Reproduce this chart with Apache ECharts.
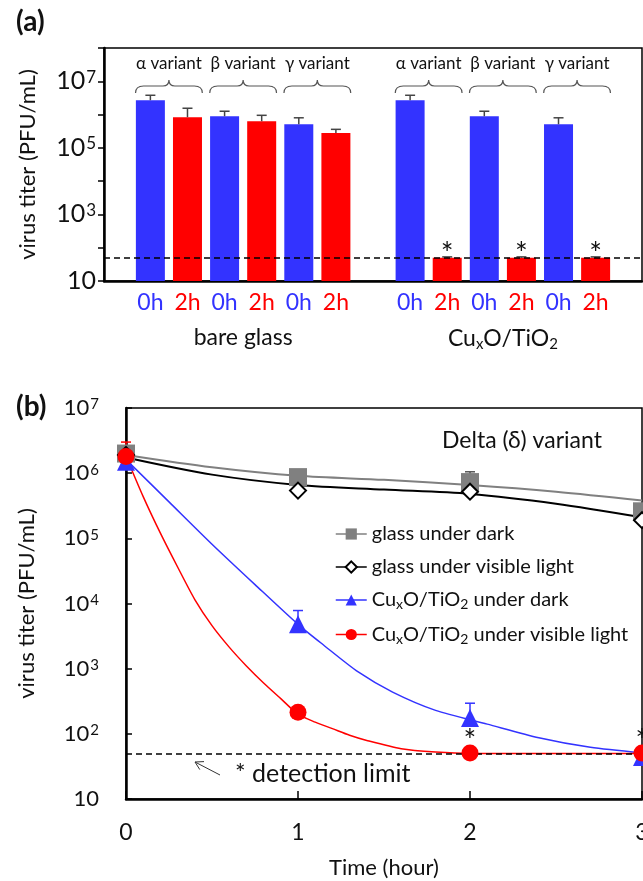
<!DOCTYPE html>
<html>
<head>
    <meta charset="utf-8">
    <title></title>
    <style type="text/css">
        html, body { margin: 0; padding: 0; background: #fff; }
        #main { width: 643px; height: 881px; }
    </style>
</head>
<body>
<div id="main"></div>
<script type="text/javascript" src="https://cdn.jsdelivr.net/npm/echarts@6.0.0/dist/echarts.min.js"></script>
<script type="text/javascript">
    // ---- panel (a): titers per variant, 0h vs 2h ----
    var barLabels = ['0h', '2h', '0h', '2h', '0h', '2h', '0h', '2h', '0h', '2h', '0h', '2h'];
    var barValues = [2.7e6, 8.3e5, 8.9e5, 6.3e5, 5.1e5, 2.8e5, 2.7e6, 50, 8.9e5, 50, 5.1e5, 50];
    var barErrTop = [3.8e6, 1.55e6, 1.26e6, 9.5e5, 8.0e5, 3.6e5, 3.8e6, 53, 1.26e6, 53, 8.0e5, 53];
    var barStar = [0, 0, 0, 0, 0, 0, 0, 1, 0, 1, 0, 1];
    var groupNames = ['bare glass', 'Cu{sub|x}O/TiO{sub|2}'];
    var variantNames = ['α variant', 'β variant', 'γ variant'];
    var detectionLimit = 50;

    // ---- panel (b): Delta variant over time ----
    var timeH = [0, 1, 2, 3];
    var glassDark = [2.0e6, 8.7e5, 7.3e5, 2.6e5];
    var glassDarkErr = [null, null, 1.05e6, 3.0e5];
    var glassLight = [1.9e6, 5.4e5, 5.2e5, 1.9e5];
    var cuDark = [1.5e6, 4.8e3, 175, 44];
    var cuDarkErr = [null, 7.8e3, 295, null];
    var cuLight = [1.8e6, 215, 51, 51];
    var cuLightErr = [3.0e6, null, null, null];
    var cuLightStar = [0, 0, 1, 1];

    // fitted curves
    var glassFitT = [0, 0.5, 1, 1.5, 2, 2.5, 3];
    var glassDarkFit = [1.9e6, 1.23e6, 9.1e5, 7.9e5, 6.6e5, 5.2e5, 3.8e5];
    var glassLightFit = [1.74e6, 9.5e5, 6.6e5, 5.6e5, 4.8e5, 3.4e5, 2.1e5];
    var cuDarkFitT = [0, 0.25, 0.5, 0.75, 1, 1.15, 1.35, 1.55, 1.8, 2.1, 2.4, 2.7, 3];
    var cuDarkFit = [1.62e6, 3.63e5, 8.13e4, 1.95e4, 4790, 2290, 891, 437, 229, 141, 87, 62, 51];
    var cuLightFitT = [0, 0.1, 0.2, 0.3, 0.4, 0.5, 0.6, 0.7, 0.8, 0.9, 1, 1.1, 1.2, 1.3, 1.4, 1.6, 1.8, 2, 2.5, 3];
    var cuLightFit = [1.82e6, 4.37e5, 1.2e5, 3.63e4, 1.15e4, 4570, 2140, 1100, 603, 347, 200, 151, 120, 95, 79, 59, 52.5, 50, 50, 50];

    var legendNames = ['glass under dark', 'glass under visible light', 'CuxO/TiO2 under dark', 'CuxO/TiO2 under visible light'];
    var legendText = ['glass under dark', 'glass under visible light',
        'Cu{sub|x}O/TiO{sub|2} under dark', 'Cu{sub|x}O/TiO{sub|2} under visible light'];

    var FONT = 'Lato, "Open Sans", sans-serif';
    var TXT = '#111';
    var BLUE = '#3333FF', RED = '#FF0000', GRAY = '#808080';

    // two groups of six bars with one empty slot between them
    function barPos(i) {
        return 1.25 + Math.floor(i / 6) * 7 + (i % 6);
    }
    function near(a, b) { return Math.abs(a - b) < 1e-6; }
    function expOf(v) { return Math.round(Math.log(v) / Math.LN10); }
    function zip(xs, ys) { return xs.map(function (x, i) { return [x, ys[i]]; }); }

    function supRich(size, supSize) {
        return {
            base: {fontSize: size, color: TXT, fontFamily: FONT},
            sup: {fontSize: supSize, color: TXT, fontFamily: FONT, verticalAlign: 'top', padding: [0, 0, 0, 1]}
        };
    }
    function powLabel(v) {
        var e = expOf(v);
        return e === 1 ? '{base|10}' : '{base|10}{sup|' + e + '}';
    }

    var myChart = echarts.init(document.getElementById('main'));

    // bar data
    var barData = barValues.map(function (v, i) {
        var item = {
            value: [barPos(i), v],
            itemStyle: {color: barLabels[i] === '0h' ? BLUE : RED}
        };
        if (barStar[i]) item.label = {show: true, formatter: '*'};
        return item;
    });
    var barErrData = barErrTop.map(function (e, i) { return [barPos(i), barValues[i], e]; });

    var braceData = [];
    for (var g = 0; g < 2; g++) {
        for (var v = 0; v < 3; v++) {
            braceData.push([barPos(g * 6 + v * 2) - 0.4, barPos(g * 6 + v * 2 + 1) + 0.4, 1e7, v]);
        }
    }

    function renderBrace(params, api) {
        var x0 = api.coord([api.value(0), 10])[0];
        var x1 = api.coord([api.value(1), 10])[0];
        var top = params.coordSys.y;
        var xm = (x0 + x1) / 2;
        var yT = top + 32, yL = top + 38, yE = top + 45;
        var d = 'M' + x0 + ',' + yE + ' Q' + x0 + ',' + yL + ' ' + (x0 + 8) + ',' + yL +
            ' L' + (xm - 6) + ',' + yL + ' Q' + xm + ',' + yL + ' ' + xm + ',' + yT +
            ' Q' + xm + ',' + yL + ' ' + (xm + 6) + ',' + yL +
            ' L' + (x1 - 8) + ',' + yL + ' Q' + x1 + ',' + yL + ' ' + x1 + ',' + yE;
        return {
            type: 'group',
            children: [
                {type: 'path', shape: {pathData: d}, style: {stroke: '#555', fill: 'none', lineWidth: 1.2}},
                {
                    type: 'text',
                    style: {
                        text: variantNames[api.value(3)], x: xm, y: top + 16,
                        align: 'center', verticalAlign: 'middle',
                        fontSize: 17, fontFamily: FONT, fill: TXT
                    }
                }
            ]
        };
    }

    function errRenderer(colors) {
        return function (params, api) {
            var top = api.value(2);
            if (top == null || isNaN(top)) return;
            var p0 = api.coord([api.value(0), api.value(1)]);
            var p1 = api.coord([api.value(0), top]);
            var c = colors[api.value(3) || 0];
            return {
                type: 'group',
                children: [
                    {type: 'line', shape: {x1: p0[0], y1: p0[1], x2: p1[0], y2: p1[1]}, style: {stroke: c, lineWidth: 1.5}},
                    {type: 'line', shape: {x1: p1[0] - 5, y1: p1[1], x2: p1[0] + 5, y2: p1[1]}, style: {stroke: c, lineWidth: 1.5}}
                ]
            };
        };
    }

    var errB = [];
    [[glassDark, glassDarkErr, 0], [cuDark, cuDarkErr, 1], [cuLight, cuLightErr, 2]].forEach(function (s) {
        timeH.forEach(function (t, i) {
            if (s[1][i] != null) errB.push([t, s[0][i], s[1][i], s[2]]);
        });
    });

    var cuLightData = timeH.map(function (t, i) {
        var item = {value: [t, cuLight[i]]};
        if (cuLightStar[i]) item.label = {show: true, formatter: '*'};
        return item;
    });

    var dashLine = {
        silent: true, symbol: 'none', label: {show: false},
        lineStyle: {color: '#000', type: [6, 4], width: 1.5},
        data: [{yAxis: detectionLimit}]
    };

    var starLabel = {show: false, position: 'top', distance: -12, fontSize: 30, color: TXT, fontFamily: FONT};

    var option = {
        backgroundColor: '#fff',
        animation: false,
        textStyle: {fontFamily: FONT},
        title: [
            {text: '(a)', left: 11, top: 3, textStyle: {fontSize: 28, fontWeight: 'bold', color: TXT, fontFamily: FONT}},
            {text: '(b)', left: 11, top: 388, textStyle: {fontSize: 28, fontWeight: 'bold', color: TXT, fontFamily: FONT}},
            {text: 'Delta (δ) variant', left: 437, top: 424, textStyle: {fontSize: 23, fontWeight: 'normal', color: TXT, fontFamily: FONT}},
            {text: '* detection limit', left: 230, top: 756, textStyle: {fontSize: 25, fontWeight: 'normal', color: TXT, fontFamily: FONT}}
        ],
        graphic: [
            {type: 'line', shape: {x1: 220, y1: 775, x2: 195, y2: 762}, style: {stroke: '#333', lineWidth: 1}},
            {type: 'polyline', shape: {points: [[199.8, 769.6], [195, 762], [204, 761.6]]}, style: {stroke: '#333', fill: 'none', lineWidth: 1}}
        ],
        legend: {
            left: 330, top: 519, orient: 'vertical',
            itemWidth: 31, itemHeight: 14, itemGap: 13,
            selectedMode: false,
            data: legendNames,
            formatter: function (n) { return legendText[legendNames.indexOf(n)]; },
            lineStyle: {opacity: 1, width: 1.5},
            textStyle: {
                fontSize: 20, color: TXT, fontFamily: FONT,
                rich: {sub: {fontSize: 14, color: TXT, fontFamily: FONT, padding: [9, 0, 0, 0]}}
            }
        },
        grid: [
            {left: 104, top: 48, right: 1, height: 233, show: true, borderColor: '#000', borderWidth: 1.5, outerBoundsMode: 'none', containLabel: false},
            {left: 126, top: 408, right: 1, height: 391, show: true, borderColor: '#000', borderWidth: 1.5, outerBoundsMode: 'none', containLabel: false}
        ],
        xAxis: [
            {
                type: 'value', gridIndex: 0, min: 0, max: 14.5, interval: 0.25,
                axisLine: {show: true, onZero: false, lineStyle: {color: '#000', width: 2.5}},
                axisTick: {show: false}, splitLine: {show: false},
                axisLabel: {
                    margin: 10,
                    formatter: function (v) {
                        for (var i = 0; i < barLabels.length; i++) {
                            if (near(v, barPos(i))) return barLabels[i] === '0h' ? '{b|0h}' : '{r|2h}';
                        }
                        return '';
                    },
                    rich: {
                        b: {color: BLUE, fontSize: 23, fontFamily: FONT, padding: [0, 0, 6, 0]},
                        r: {color: RED, fontSize: 23, fontFamily: FONT}
                    }
                }
            },
            {
                type: 'value', gridIndex: 0, min: 0, max: 14.5, interval: 0.25, position: 'bottom', offset: 37,
                axisLine: {show: false}, axisTick: {show: false}, splitLine: {show: false},
                axisLabel: {
                    margin: 8, fontSize: 23, color: TXT, fontFamily: FONT,
                    formatter: function (v) {
                        for (var g = 0; g < groupNames.length; g++) {
                            if (near(v, (barPos(g * 6) + barPos(g * 6 + 5)) / 2)) return groupNames[g];
                        }
                        return '';
                    },
                    rich: {sub: {fontSize: 15, color: TXT, fontFamily: FONT, padding: [11, 0, 0, 0]}}
                }
            },
            {
                type: 'value', gridIndex: 1, min: 0, max: 3, interval: 1,
                axisLine: {show: true, onZero: false, lineStyle: {color: '#000', width: 2.5}},
                axisTick: {show: true, inside: true, length: 8, lineStyle: {color: '#000', width: 1.5}},
                splitLine: {show: false},
                axisLabel: {margin: 22, fontSize: 23, color: TXT, fontFamily: FONT},
                name: 'Time (hour)', nameLocation: 'middle', nameGap: 58,
                nameTextStyle: {fontSize: 22, color: TXT, fontFamily: FONT}
            }
        ],
        yAxis: [
            {
                type: 'log', gridIndex: 0, logBase: 10, min: 10, max: 1e8, interval: 1,
                axisLine: {show: true, lineStyle: {color: '#000', width: 2.5}},
                axisTick: {show: true, inside: false, length: 6, lineStyle: {color: '#000', width: 1.5}},
                splitLine: {show: false},
                axisLabel: {
                    margin: 8,
                    formatter: function (v) { return expOf(v) % 2 === 1 ? powLabel(v) : ''; },
                    rich: supRich(25, 17)
                },
                name: 'virus titer (PFU/mL)', nameLocation: 'middle', nameGap: 65,
                nameTextStyle: {fontSize: 22, color: TXT, fontFamily: FONT}
            },
            {
                type: 'log', gridIndex: 1, logBase: 10, min: 10, max: 1e7, interval: 1,
                axisLine: {show: true, lineStyle: {color: '#000', width: 2.5}},
                axisTick: {show: true, inside: true, length: 6, lineStyle: {color: '#000', width: 1.5}},
                splitLine: {show: false},
                axisLabel: {margin: 27, formatter: powLabel, rich: supRich(22, 15)},
                name: 'virus titer (PFU/mL)', nameLocation: 'middle', nameGap: 88,
                nameTextStyle: {fontSize: 22, color: TXT, fontFamily: FONT}
            }
        ],
        series: [
            {
                type: 'bar', xAxisIndex: 0, yAxisIndex: 0, barWidth: 29,
                data: barData,
                label: starLabel,
                markLine: dashLine,
                z: 2
            },
            {
                type: 'custom', xAxisIndex: 0, yAxisIndex: 0,
                renderItem: errRenderer(['#444']),
                encode: {x: 0, y: [1, 2]},
                data: barErrData, z: 3
            },
            {
                type: 'custom', xAxisIndex: 0, yAxisIndex: 0,
                renderItem: renderBrace,
                encode: {x: [0, 1], y: 2},
                data: braceData, z: 3
            },
            // fitted curves
            {
                type: 'line', xAxisIndex: 2, yAxisIndex: 1, smooth: 0.3, symbol: 'none',
                lineStyle: {color: GRAY, width: 2}, data: zip(glassFitT, glassDarkFit), z: 2
            },
            {
                type: 'line', xAxisIndex: 2, yAxisIndex: 1, smooth: 0.3, symbol: 'none',
                lineStyle: {color: '#000', width: 2}, data: zip(glassFitT, glassLightFit), z: 2
            },
            {
                type: 'line', xAxisIndex: 2, yAxisIndex: 1, smooth: 0.25, symbol: 'none',
                lineStyle: {color: BLUE, width: 1.5}, data: zip(cuDarkFitT, cuDarkFit), z: 2
            },
            {
                type: 'line', xAxisIndex: 2, yAxisIndex: 1, smooth: 0.25, symbol: 'none',
                lineStyle: {color: RED, width: 1.5}, data: zip(cuLightFitT, cuLightFit),
                markLine: dashLine, z: 2
            },
            {
                type: 'custom', xAxisIndex: 2, yAxisIndex: 1,
                renderItem: errRenderer(['#555', BLUE, RED]),
                encode: {x: 0, y: [1, 2]},
                data: errB, z: 3
            },
            // measured points
            {
                name: legendNames[0], type: 'line', xAxisIndex: 2, yAxisIndex: 1,
                symbol: 'rect', symbolSize: 18, itemStyle: {color: GRAY},
                lineStyle: {color: GRAY, opacity: 0}, data: zip(timeH, glassDark), z: 4
            },
            {
                name: legendNames[1], type: 'line', xAxisIndex: 2, yAxisIndex: 1,
                symbol: 'diamond', symbolSize: 16, itemStyle: {color: '#fff', borderColor: '#000', borderWidth: 2},
                lineStyle: {color: '#000', opacity: 0}, data: zip(timeH, glassLight), z: 5
            },
            {
                name: legendNames[2], type: 'line', xAxisIndex: 2, yAxisIndex: 1,
                symbol: 'triangle', symbolSize: 18, itemStyle: {color: BLUE},
                lineStyle: {color: BLUE, opacity: 0}, data: zip(timeH, cuDark), z: 6
            },
            {
                name: legendNames[3], type: 'line', xAxisIndex: 2, yAxisIndex: 1,
                symbol: 'circle', symbolSize: 17, itemStyle: {color: RED},
                lineStyle: {color: RED, opacity: 0}, data: cuLightData,
                label: starLabel,
                z: 7
            }
        ]
    };

    myChart.setOption(option);
</script>
</body>
</html>
